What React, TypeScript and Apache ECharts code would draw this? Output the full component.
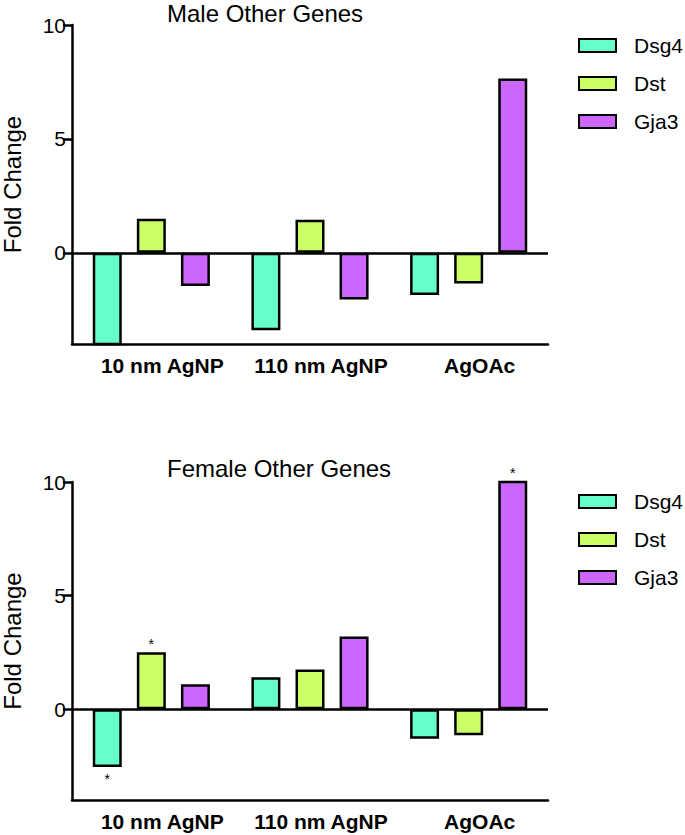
import React, { useEffect, useRef } from "react";
import * as echarts from "echarts";

const categories = ["10 nm AgNP", "110 nm AgNP", "AgOAc"];
const genes = ["Dsg4", "Dst", "Gja3"];
const geneColors = ["#66FFCC", "#CCFF66", "#CC66FF"];

const maleDsg4 = [-4.2, -3.4, -1.85];
const maleDst = [1.5, 1.45, -1.35];
const maleGja3 = [-1.45, -2.05, 7.65];

const femaleDsg4 = [-2.55, 1.4, -1.3];
const femaleDst = [2.5, 1.75, -1.15];
const femaleGja3 = [1.1, 3.2, 10.5];

const femaleSigDsg4 = [true, false, false];
const femaleSigDst = [true, false, false];
const femaleSigGja3 = [false, false, true];

const yTicks = [0, 5, 10];
const yMin = -4;
const yMax = 10;

const FONT = "Arial, 'Liberation Sans', sans-serif";

export default function App() {
  const ref = useRef<HTMLDivElement>(null);

  useEffect(() => {
    document.body.style.margin = "0";
    const chart = echarts.init(ref.current!, null, { renderer: "svg" });

    const grids = [
      { left: 72, top: 25, width: 476, height: 319, containLabel: false, outerBoundsMode: "none" },
      { left: 72, top: 482, width: 476, height: 318, containLabel: false, outerBoundsMode: "none" },
    ];

    const mkX = (gi: number) => ({
      type: "category",
      gridIndex: gi,
      data: categories,
      axisLine: { show: true, onZero: false, lineStyle: { color: "#000", width: 2.5 } },
      axisTick: { show: false },
      axisLabel: {
        interval: 0,
        color: "#000",
        fontSize: 21,
        fontWeight: "bold",
        margin: 11,
        fontFamily: FONT,
        padding: [0, 0, 0, 22],
      },
      splitLine: { show: false },
    });

    const mkY = (gi: number) => ({
      type: "value",
      gridIndex: gi,
      min: yMin,
      max: yMax,
      name: "Fold Change",
      nameLocation: "middle",
      nameGap: 48,
      nameTextStyle: { color: "#000", fontSize: 24, fontFamily: FONT },
      axisLine: { show: true, lineStyle: { color: "#000", width: 2.5 } },
      axisTick: { show: true, length: 9, customValues: yTicks, lineStyle: { color: "#000", width: 2.5 } },
      axisLabel: { customValues: yTicks, color: "#000", fontSize: 21, margin: 6, fontFamily: FONT },
      splitLine: { show: false },
    });

    const zeroLine = {
      silent: true,
      symbol: ["none", "none"],
      label: { show: false },
      lineStyle: { color: "#000", width: 2.5, type: "solid" },
      data: [{ yAxis: 0 }],
    };

    const mkData = (vals: number[], sig?: boolean[]) =>
      vals.map((v, i) =>
        sig && sig[i]
          ? {
              value: v,
              label: {
                show: true,
                formatter: "*",
                position: "outside",
                distance: v >= 0 ? 1 : 5,
                fontSize: 14,
                color: "#000",
                fontFamily: FONT,
              },
            }
          : v
      );

    const mkBar = (gi: number, k: number, vals: number[], sig?: boolean[]) => ({
      type: "bar",
      name: genes[k],
      xAxisIndex: gi,
      yAxisIndex: gi,
      data: mkData(vals, sig),
      barWidth: 29,
      barGap: "52%",
      clip: true,
      itemStyle: { color: geneColors[k], borderColor: "#000", borderWidth: 2.5 },
      markLine: k === 0 ? zeroLine : undefined,
      z: 2,
    });

    const mkLegend = (top: number) => ({
      orient: "vertical",
      left: 578,
      top,
      padding: 0,
      itemWidth: 37,
      itemHeight: 13,
      itemGap: 17,
      icon: "rect",
      data: genes,
      selectedMode: false,
      textStyle: { color: "#000", fontSize: 21, fontFamily: FONT, padding: [0, 0, 0, 13] },
    });

    chart.setOption({
      animation: false,
      backgroundColor: "#fff",
      title: [
        { text: "Male Other Genes", left: 167, top: 1, padding: 0, textStyle: { fontSize: 24, fontWeight: "normal", color: "#000", fontFamily: FONT } },
        { text: "Female Other Genes", left: 167, top: 456, padding: 0, textStyle: { fontSize: 24, fontWeight: "normal", color: "#000", fontFamily: FONT } },
      ],
      legend: [mkLegend(35), mkLegend(491)],
      grid: grids,
      xAxis: [mkX(0), mkX(1)],
      yAxis: [mkY(0), mkY(1)],
      series: [
        mkBar(0, 0, maleDsg4),
        mkBar(0, 1, maleDst),
        mkBar(0, 2, maleGja3),
        mkBar(1, 0, femaleDsg4, femaleSigDsg4),
        mkBar(1, 1, femaleDst, femaleSigDst),
        mkBar(1, 2, femaleGja3, femaleSigGja3),
      ],
    });

    return () => chart.dispose();
  }, []);

  return <div ref={ref} style={{ width: 685, height: 835 }} />;
}
